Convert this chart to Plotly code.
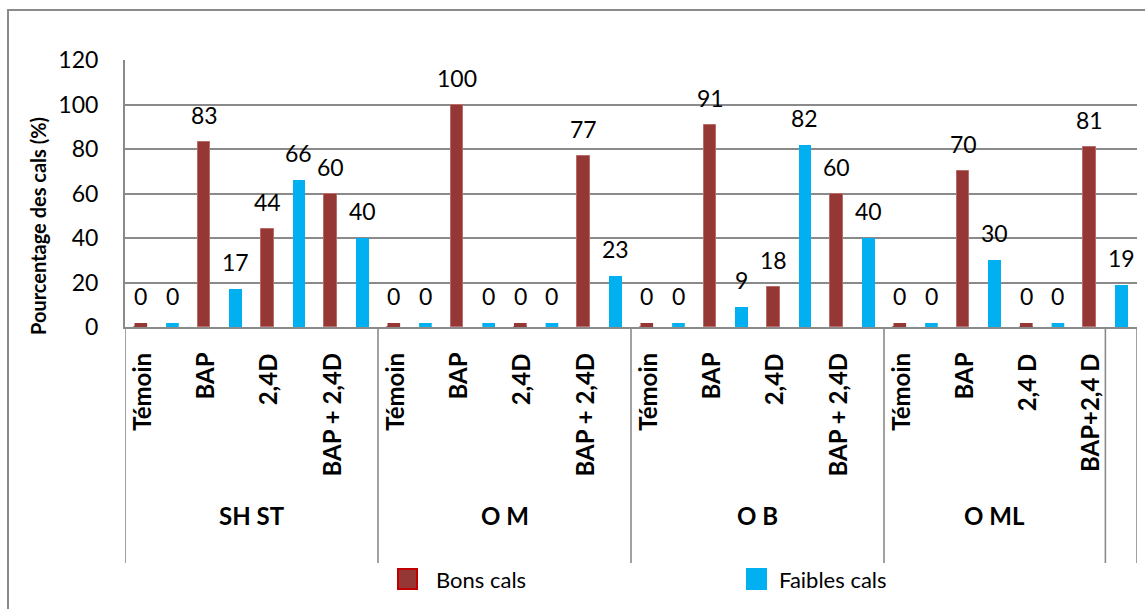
import plotly.graph_objects as go

# Data: percentage of calli per explant source and hormone treatment
groups = ["SH ST", "O M", "O B", "O ML"]
treatments = [
    ["Témoin", "BAP", "2,4D", "BAP + 2,4D"],
    ["Témoin", "BAP", "2,4D", "BAP + 2,4D"],
    ["Témoin", "BAP", "2,4D", "BAP + 2,4D"],
    ["Témoin", "BAP", "2,4 D", "BAP+2,4 D"],
]
bons_cals = [0, 83, 44, 60, 0, 100, 0, 77, 0, 91, 18, 60, 0, 70, 0, 81]
faibles_cals = [0, 17, 66, 40, 0, 0, 0, 23, 0, 9, 82, 40, 0, 30, 0, 19]
# number of category slots covered by each group label (one trailing slot unlabeled)
group_slots = [8, 8, 8, 7]
total_slots = 32

RED = "#953735"
CYAN = "#00B0F0"
GRID = "#8a8a8a"
FONT = "Lato"

W, H = 1145, 609
L, R, T, B = 125, 8, 60, 282
PW, PH = W - L - R, H - T - B


def px_x(p):
    return (p - L) / PW


def px_y(p):
    return (T + PH - p) / PH


# each treatment occupies two slots: good calli then weak calli
x_bons = [2 * i for i in range(len(bons_cals))]
x_faibles = [2 * i + 1 for i in range(len(faibles_cals))]

fig = go.Figure()
fig.add_trace(go.Bar(x=x_bons, y=bons_cals, width=0.4, name="Bons cals",
                     marker=dict(color=RED, line=dict(color="#b86b69", width=1))))
fig.add_trace(go.Bar(x=x_faibles, y=faibles_cals, width=0.4, name="Faibles cals",
                     marker=dict(color=CYAN, line=dict(width=0))))

annotations = []
shapes = []

# value labels and small stubs for zero values
for xs, vals, col in ((x_bons, bons_cals, RED), (x_faibles, faibles_cals, CYAN)):
    for x, v in zip(xs, vals):
        annotations.append(dict(x=x, y=v, xref="x", yref="y", text=str(v),
                                showarrow=False, yanchor="middle",
                                yshift=27 + (4 if v == 0 else 0),
                                font=dict(family=FONT, size=23, color="black")))
        if v == 0:
            shapes.append(dict(type="rect", xref="x", yref="y", ysizemode="pixel",
                               yanchor=v, x0=x - 0.2, x1=x + 0.2, y0=0, y1=4,
                               fillcolor=col, line=dict(width=0), layer="above"))

# treatment labels (rotated) below the axis
k = 0
for g, names in enumerate(treatments):
    for name in names:
        annotations.append(dict(x=2 * k, y=px_y(351), xref="x", yref="paper",
                                text=name, showarrow=False,
                                textangle=-90, xanchor="center", yanchor="top",
                                font=dict(family=FONT, size=24, color="black", weight=700)))
        k += 1

# group labels and dividers
start = 0
bounds = [-0.5]
for g, n in zip(groups, group_slots):
    center = start + (n - 1) / 2
    annotations.append(dict(x=center, y=px_y(532), xref="x", yref="paper",
                            text=g, showarrow=False,
                            font=dict(family=FONT, size=24, color="black", weight=700)))
    start += n
    bounds.append(start - 0.5)
bounds.append(total_slots - 0.5)
for b in bounds:
    shapes.append(dict(type="line", xref="x", yref="paper", x0=b, x1=b,
                       y0=0, y1=px_y(563), line=dict(color=GRID, width=1.6)))

# y axis title
annotations.append(dict(x=px_x(38), y=px_y(226), xref="paper", yref="paper",
                        text="Pourcentage des cals (%)", showarrow=False,
                        textangle=-90, xanchor="center", yanchor="middle",
                        font=dict(family=FONT, size=20, color="black", weight=700)))

# legend drawn below the chart
legend_items = [("Bons cals", RED, "#c00000", 398, 434), ("Faibles cals", CYAN, CYAN, 747, 777)]
for label, fill, edge, sx, tx in legend_items:
    shapes.append(dict(type="rect", xref="paper", yref="paper",
                       x0=px_x(sx), x1=px_x(sx + 19), y0=px_y(569), y1=px_y(589),
                       fillcolor=fill, line=dict(color=edge, width=2)))
    annotations.append(dict(x=px_x(tx), y=px_y(579), xref="paper", yref="paper",
                            text=label, showarrow=False, xanchor="left", yanchor="middle",
                            font=dict(family=FONT, size=22, color="black")))

# chart area frame
shapes.append(dict(type="line", xref="paper", yref="paper",
                   x0=px_x(7), x1=px_x(W + 5), y0=px_y(10), y1=px_y(10),
                   line=dict(color=GRID, width=2)))
shapes.append(dict(type="line", xref="paper", yref="paper",
                   x0=px_x(8), x1=px_x(8), y0=px_y(10), y1=px_y(H + 5),
                   line=dict(color=GRID, width=2)))

fig.update_layout(
    width=W, height=H,
    margin=dict(l=L, r=R, t=T, b=B),
    paper_bgcolor="white", plot_bgcolor="white",
    showlegend=False,
    bargap=0, barmode="overlay",
    font=dict(family=FONT, size=22, color="black"),
    annotations=annotations, shapes=shapes,
    xaxis=dict(range=[-0.5, total_slots - 0.5], showticklabels=False, showgrid=False,
               zeroline=False, showline=True, linecolor=GRID, linewidth=2, ticks=""),
    yaxis=dict(range=[0, 120], dtick=20, showgrid=True, gridcolor=GRID, gridwidth=1.5,
               zeroline=False, showline=True, linecolor=GRID, linewidth=2,
               ticks="", ticklabelstandoff=20,
               tickfont=dict(family=FONT, size=23, color="black")),
)

fig.write_html("out.html")
